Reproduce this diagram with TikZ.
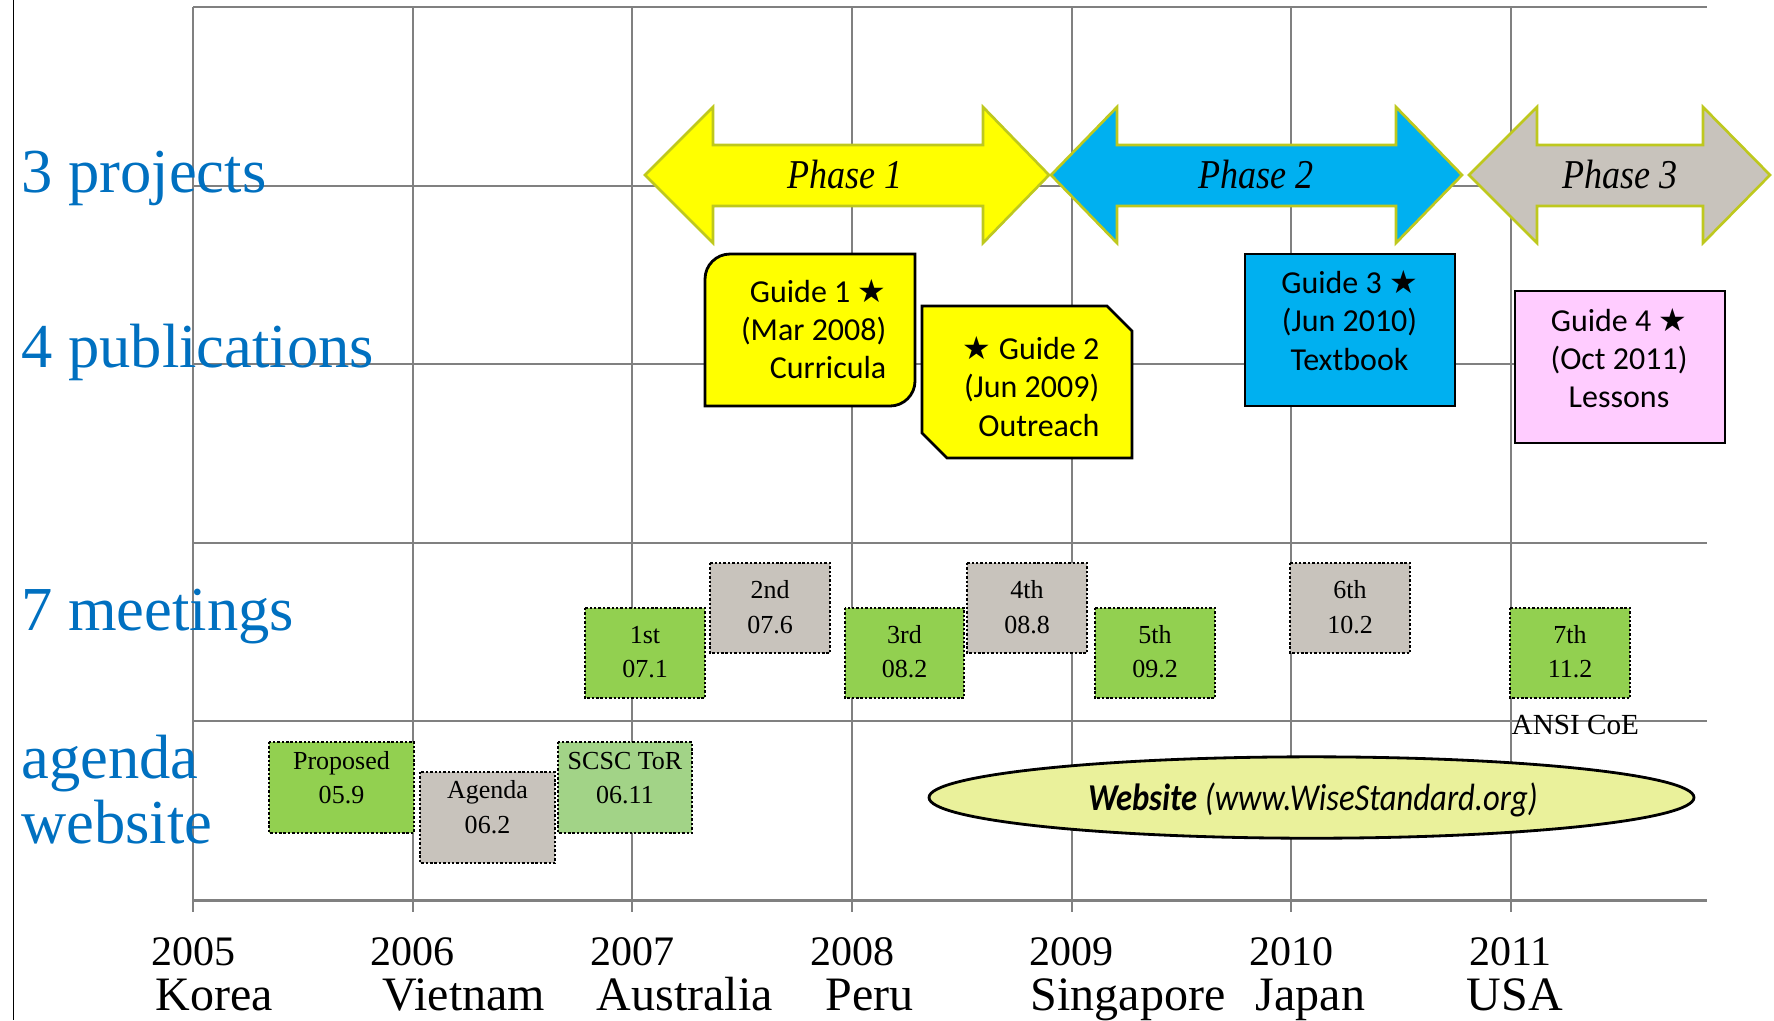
\documentclass[tikz,border=0pt]{standalone}
\usepackage{fontspec}
\usepackage{graphicx}
\setmainfont{Liberation Serif}
\newfontfamily\calfont{Carlito}
\newfontfamily\symfont{DejaVu Sans}
\usetikzlibrary{shapes.geometric}
\definecolor{labelblue}{HTML}{0070C0}
\definecolor{gridgray}{RGB}{128,128,128}
\definecolor{pyellow}{HTML}{FFFF00}
\definecolor{pblue}{HTML}{00B0F0}
\definecolor{pgray}{RGB}{200,195,188}
\definecolor{pborder}{RGB}{190,200,30}
\definecolor{ppink}{HTML}{FFCCFF}
\definecolor{mgreen}{HTML}{92D050}
\definecolor{mlgreen}{RGB}{162,211,135}
\definecolor{webfill}{RGB}{234,241,155}
\newcommand{\stargl}{{\symfont ★}}
\begin{document}
\begin{tikzpicture}[x=0.1mm,y=-0.1mm,
  gridline/.style={draw=gridgray, line width=0.57pt},
  axisline/.style={draw=gridgray, line width=0.85pt},
  phasearrow/.style={draw=pborder, line width=0.75pt, line join=miter},
  pubbox/.style={draw=black, line width=0.8pt, line join=miter},
  meetbox/.style={draw=black, line width=0.7pt, dash pattern=on 0.7pt off 0.55pt},
  rowlbl/.style={anchor=base west, inner sep=0pt, text=labelblue, font=\fontsize{17.8pt}{20pt}\selectfont},
  phasetxt/.style={anchor=base, inner sep=0pt, font=\itshape\fontsize{11.66pt}{14pt}\selectfont},
  pubtxt/.style={inner sep=0pt, font=\calfont\fontsize{9.1pt}{11pt}\selectfont},
  mtxt/.style={anchor=base, inner sep=0pt, font=\fontsize{7.4pt}{9pt}\selectfont},
  yeartxt/.style={anchor=base, inner sep=0pt, font=\fontsize{11.95pt}{14pt}\selectfont},
  countrytxt/.style={anchor=base west, inner sep=0pt, font=\fontsize{13.66pt}{16pt}\selectfont}
]
\useasboundingbox (0,0) rectangle (1774,1020);

% left black line
\draw[black, line width=0.45pt] (13.5,0) -- (13.5,1020);

% grid
\foreach \yy in {7,185.5,364.3,543,721}
  \draw[gridline] (193,\yy) -- (1707,\yy);
\foreach \xx in {193,412.7,632.3,852,1071.5,1291,1510.5}
  \draw[gridline] (\xx,7) -- (\xx,912);
\draw[axisline] (193,900) -- (1707,900);

% phase arrows
\draw[phasearrow, fill=pyellow] (645,175) -- (713,107) -- (713,145) -- (983,145) -- (983,107) -- (1049,175) -- (983,243) -- (983,206) -- (713,206) -- (713,243) -- cycle;
\draw[phasearrow, fill=pblue] (1051,175) -- (1117,107) -- (1117,145) -- (1396,145) -- (1396,107) -- (1462,175) -- (1396,243) -- (1396,206) -- (1117,206) -- (1117,243) -- cycle;
\draw[phasearrow, fill=pgray] (1469,175) -- (1537,107) -- (1537,145) -- (1703,145) -- (1703,107) -- (1770,175) -- (1703,243) -- (1703,206) -- (1537,206) -- (1537,243) -- cycle;
\node[phasetxt] (ph1) at (845,188) {\scalebox{0.88}[1]{Phase 1}};
\node[phasetxt] (ph2) at (1256,188) {\scalebox{0.88}[1]{Phase 2}};
\node[phasetxt] (ph3) at (1620,188) {\scalebox{0.88}[1]{Phase 3}};

% publications
\draw[pubbox, fill=pyellow] (705,279) .. controls (705,265.2) and (716.2,254) .. (730,254) -- (915,254) -- (915,381) .. controls (915,394.8) and (903.8,406) .. (890,406) -- (705,406) -- cycle;
\node[pubtxt, anchor=base east] (g1a) at (887,302) {Guide 1 \stargl};
\node[pubtxt, anchor=base east] (g1b) at (887,340) {(Mar 2008)};
\node[pubtxt, anchor=base east] (g1c) at (887,378) {Curricula};

\draw[pubbox, fill=pyellow] (922,306) -- (1107,306) -- (1132,331) -- (1132,458) -- (947,458) -- (922,433) -- cycle;
\node[pubtxt, anchor=base east] (g2a) at (1100,359) {\stargl\ Guide 2};
\node[pubtxt, anchor=base east] (g2b) at (1100,397) {(Jun 2009)};
\node[pubtxt, anchor=base east] (g2c) at (1100,436) {Outreach};

\draw[pubbox, fill=pblue] (1245,254) rectangle (1455,406);
\node[pubtxt, anchor=base] (g3a) at (1349.5,293) {Guide 3 \stargl};
\node[pubtxt, anchor=base] (g3b) at (1349.5,331) {(Jun 2010)};
\node[pubtxt, anchor=base] (g3c) at (1349.5,370) {Textbook};

\draw[pubbox, fill=ppink] (1515,291) rectangle (1725,443);
\node[pubtxt, anchor=base] (g4a) at (1619,331) {Guide 4 \stargl};
\node[pubtxt, anchor=base] (g4b) at (1619,369) {(Oct 2011)};
\node[pubtxt, anchor=base] (g4c) at (1619,407) {Lessons};

% meetings
\draw[meetbox, fill=mgreen] (585,608) rectangle (705,698);
\node[mtxt] (m1a) at (645,643) {1st};
\node[mtxt] (m1b) at (645,677) {07.1};
\draw[meetbox, fill=pgray] (710,563) rectangle (830,653);
\node[mtxt] (m2a) at (770,598) {2nd};
\node[mtxt] (m2b) at (770,633) {07.6};
\draw[meetbox, fill=mgreen] (845,608) rectangle (964,698);
\node[mtxt] (m3a) at (904.5,643) {3rd};
\node[mtxt] (m3b) at (904.5,677) {08.2};
\draw[meetbox, fill=pgray] (967,563) rectangle (1087,653);
\node[mtxt] (m4a) at (1027,598) {4th};
\node[mtxt] (m4b) at (1027,633) {08.8};
\draw[meetbox, fill=mgreen] (1095,608) rectangle (1215,698);
\node[mtxt] (m5a) at (1155,643) {5th};
\node[mtxt] (m5b) at (1155,677) {09.2};
\draw[meetbox, fill=pgray] (1290,563) rectangle (1410,653);
\node[mtxt] (m6a) at (1350,598) {6th};
\node[mtxt] (m6b) at (1350,633) {10.2};
\draw[meetbox, fill=mgreen] (1510,608) rectangle (1630,698);
\node[mtxt] (m7a) at (1570,643) {7th};
\node[mtxt] (m7b) at (1570,677) {11.2};
\node[anchor=base west, inner sep=0pt, font=\fontsize{8.3pt}{10pt}\selectfont] (ansi) at (1511,734) {ANSI CoE};

% agenda row
\draw[meetbox, fill=mgreen] (269,742) rectangle (414,833);
\node[mtxt] (a1a) at (341.5,769) {Proposed};
\node[mtxt] (a1b) at (341.5,803) {05.9};
\draw[meetbox, fill=pgray] (420,772) rectangle (555,863);
\node[mtxt] (a2a) at (487.5,798) {Agenda};
\node[mtxt] (a2b) at (487.5,833) {06.2};
\draw[meetbox, fill=mlgreen] (558,742) rectangle (692,833);
\node[mtxt] (a3a) at (625,769) {SCSC ToR};
\node[mtxt] (a3b) at (625,803) {06.11};

% website ellipse
\node[ellipse, draw=black, line width=0.8pt, fill=webfill, minimum width=76.5mm, minimum height=8.14mm, inner sep=0pt] (web) at (1311.5,797.5) {};
\node[anchor=base, inner sep=0pt, font=\calfont\fontsize{10.8pt}{13pt}\selectfont] (webtxt) at (1313,810) {\scalebox{0.86}[1]{\textbf{\textit{Website}} \textit{(www.WiseStandard.org)}}};

% row labels
\node[rowlbl] (l1) at (20.7,192) {3 projects};
\node[rowlbl] (l2) at (20.7,367) {4 publications};
\node[rowlbl] (l3) at (20.7,630) {7 meetings};
\node[rowlbl] (l4) at (20.7,778) {agenda};
\node[rowlbl] (l5) at (20.7,843) {website};

% years and countries
\node[yeartxt] (y05) at (193,965) {2005};
\node[yeartxt] (y06) at (412.7,965) {2006};
\node[yeartxt] (y07) at (632.3,965) {2007};
\node[yeartxt] (y08) at (852,965) {2008};
\node[yeartxt] (y09) at (1071.5,965) {2009};
\node[yeartxt] (y10) at (1291,965) {2010};
\node[yeartxt] (y11) at (1510.5,965) {2011};
\node[countrytxt] (c05) at (155,1010) {Korea};
\node[countrytxt] (c06) at (382,1010) {Vietnam};
\node[countrytxt] (c07) at (596,1010) {Australia};
\node[countrytxt] (c08) at (825,1010) {Peru};
\node[countrytxt] (c09) at (1030,1010) {Singapore};
\node[countrytxt] (c10) at (1255,1010) {Japan};
\node[countrytxt] (c11) at (1466,1010) {USA};
\end{tikzpicture}
\end{document}
